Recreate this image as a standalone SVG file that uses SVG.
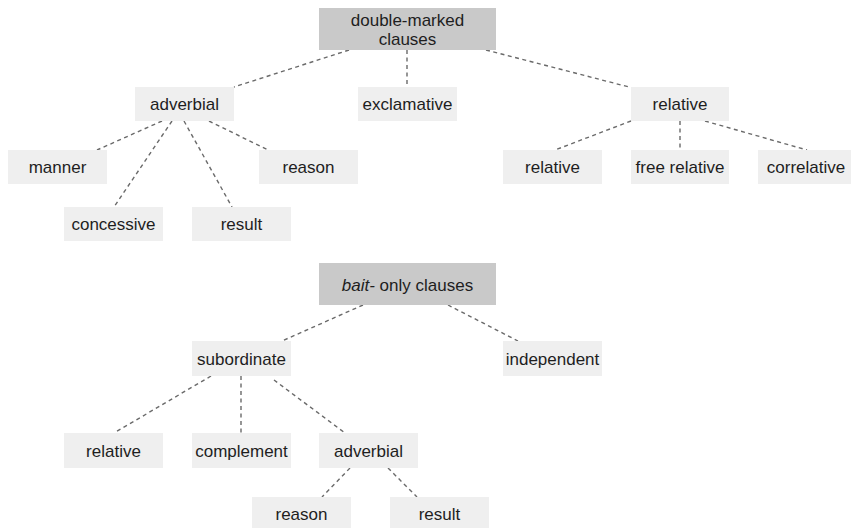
<svg xmlns="http://www.w3.org/2000/svg" width="851" height="528" viewBox="0 0 851 528">
<style>
.n{fill:#efefef}
.h{fill:#c9c9c9}
text{font-family:"Liberation Sans",Arial,sans-serif;font-size:17px;fill:#1e1e1e;text-anchor:middle}
#edges line{stroke:#6a6a6a;stroke-width:1.4;stroke-dasharray:4 3.5;fill:none}
</style>
<rect width="851" height="528" fill="#fff"/>
<g id="edges">
<line x1="349" y1="50" x2="234" y2="87"/>
<line x1="407" y1="50" x2="407" y2="87"/>
<line x1="486" y1="50" x2="629" y2="87"/>
<line x1="162" y1="121" x2="97" y2="150"/>
<line x1="172" y1="121" x2="114" y2="207"/>
<line x1="184" y1="121" x2="232" y2="207"/>
<line x1="209" y1="121" x2="268" y2="150"/>
<line x1="631" y1="121" x2="555" y2="150"/>
<line x1="680" y1="121" x2="680" y2="150"/>
<line x1="705" y1="121" x2="807" y2="150"/>
<line x1="363" y1="305" x2="282" y2="341"/>
<line x1="448" y1="305" x2="518" y2="341"/>
<line x1="211" y1="376" x2="114" y2="433"/>
<line x1="241" y1="376" x2="241" y2="433"/>
<line x1="274" y1="380" x2="345" y2="433"/>
<line x1="350" y1="468" x2="322" y2="497"/>
<line x1="388" y1="468" x2="417" y2="497"/>
</g>
<g id="double-marked"><rect class="h" x="319" y="8" width="177" height="42"/><text x="407.5" y="26">double-marked</text><text x="407.5" y="45">clauses</text></g>
<g id="adverbial1"><rect class="n" x="135" y="87" width="99" height="34"/><text x="184.5" y="110">adverbial</text></g>
<g id="exclamative"><rect class="n" x="358" y="87" width="99" height="34"/><text x="407.5" y="110">exclamative</text></g>
<g id="relative1"><rect class="n" x="631" y="87" width="98" height="34"/><text x="680" y="110">relative</text></g>
<g id="manner"><rect class="n" x="8" y="150" width="99" height="34"/><text x="57.5" y="173">manner</text></g>
<g id="reason1"><rect class="n" x="259" y="150" width="99" height="34"/><text x="308.5" y="173">reason</text></g>
<g id="concessive"><rect class="n" x="64" y="207" width="99" height="34"/><text x="113.5" y="230">concessive</text></g>
<g id="result1"><rect class="n" x="192" y="207" width="99" height="34"/><text x="241.5" y="230">result</text></g>
<g id="relative2"><rect class="n" x="503" y="150" width="99" height="34"/><text x="552.5" y="173">relative</text></g>
<g id="free-relative"><rect class="n" x="631" y="150" width="98" height="34"/><text x="680" y="173">free relative</text></g>
<g id="correlative"><rect class="n" x="758" y="150" width="99" height="34"/><text x="806" y="173">correlative</text></g>
<g id="bait-only"><rect class="h" x="319" y="263" width="177" height="42"/><text x="407.5" y="291"><tspan font-style="italic">bait-</tspan> only clauses</text></g>
<g id="subordinate"><rect class="n" x="192" y="341" width="99" height="35"/><text x="241.5" y="365">subordinate</text></g>
<g id="independent"><rect class="n" x="503" y="341" width="99" height="35"/><text x="552.5" y="365">independent</text></g>
<g id="relative3"><rect class="n" x="64" y="433" width="99" height="35"/><text x="113.5" y="457">relative</text></g>
<g id="complement"><rect class="n" x="192" y="433" width="99" height="35"/><text x="241.5" y="457">complement</text></g>
<g id="adverbial2"><rect class="n" x="319" y="433" width="99" height="35"/><text x="368.5" y="457">adverbial</text></g>
<g id="reason2"><rect class="n" x="252" y="497" width="99" height="35"/><text x="301.5" y="520">reason</text></g>
<g id="result2"><rect class="n" x="390" y="497" width="99" height="35"/><text x="439.5" y="520">result</text></g>
</svg>
